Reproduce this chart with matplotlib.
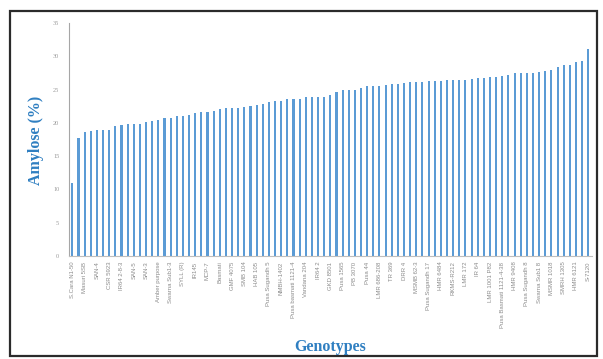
#!/usr/bin/env python
# -*- coding: utf-8 -*-

'''
Amylose content (%) of rice genotypes, sorted from low to high.
'''

import matplotlib
matplotlib.use("Agg")
import numpy as np
import matplotlib.pyplot as plt
from matplotlib.patches import Rectangle

# Amylose (%) for each genotype, ascending
amylose = [
    10.9, 17.8, 18.7, 18.8, 19.0, 19.0, 19.0, 19.6, 19.7, 19.8,
    19.85, 19.9, 20.1, 20.3, 20.5, 20.8, 20.8, 21.05, 21.1, 21.25,
    21.5, 21.6, 21.65, 21.75, 22.1, 22.2, 22.2, 22.3, 22.35, 22.5,
    22.65, 22.9, 23.15, 23.25, 23.35, 23.55, 23.55, 23.6, 23.85, 23.85,
    23.9, 23.95, 24.15, 24.65, 24.9, 24.9, 25.0, 25.3, 25.5, 25.55,
    25.55, 25.65, 25.8, 25.9, 25.95, 26.1, 26.2, 26.2, 26.25, 26.3,
    26.3, 26.4, 26.4, 26.5, 26.5, 26.65, 26.7, 26.8, 26.9, 26.9,
    27.05, 27.15, 27.45, 27.45, 27.45, 27.5, 27.7, 27.85, 28.0, 28.4,
    28.65, 28.65, 29.15, 29.3, 31.15,
]

# only every second genotype gets a label on the axis
genotype_labels = [
    "S.Cara N1-50", "Masuri 5SB", "SAN-4", "CSR 5923", "IR64 2-8-3",
    "SAN-5", "SAN-3", "Amber purpose", "Swarna Sub1-3", "SYLL (R)",
    "IR145", "MCP-7", "Basmati", "GMF 4075", "SMB 104",
    "HAB 105", "Pusa Sugandh 5", "NMBH-1402", "Pusa basmati 1121-4", "Vandana 204",
    "IR64 2", "GKD 8501", "Pusa 1565", "PB 3070", "Pusa 44",
    "LMR 686-208", "TR 369", "DRR 4", "MSMB 62-3", "Pusa Sugandh 17",
    "HMR 6484", "RKMS-R212", "LMR 172", "IR 64", "LMR 1001 P82",
    "Pusa Basmati 1121-4-38", "HMR 9408", "Pusa Sugandh 8", "Swarna Sub1 8", "MSMR 1018",
    "SMRH 1305", "HMR 6121", "S-7120",
]

yTicks = [0, 5, 10, 15, 20, 25, 30, 35]


def main():
    fig = plt.figure(figsize=(6.03, 3.59), dpi=100)
    ax = fig.add_axes([0.1144, 0.2869, 0.8673, 0.649])

    x = np.arange(len(amylose))
    ax.bar(x, amylose, width=0.34, color="#5B9BD5", zorder=2)

    ax.set_xlim(-0.55, len(amylose) - 0.4)
    ax.set_ylim(0, 35)

    ax.set_yticks(yTicks)
    ax.set_yticklabels([str(t) for t in yTicks], fontsize=4.5,
                       color="#999999", family="Liberation Serif")
    ax.set_xticks(x[::2])
    ax.set_xticklabels(genotype_labels, rotation=90, fontsize=4.3,
                       color="#8c8c8c", family="Liberation Sans")
    ax.tick_params(axis="x", length=0, pad=4)
    ax.tick_params(axis="y", length=0, pad=7)

    for side in ["top", "right"]:
        ax.spines[side].set_visible(False)
    ax.spines["left"].set_color("#a6a6a6")
    ax.spines["left"].set_linewidth(0.8)
    ax.spines["bottom"].set_color("#bfbfbf")
    ax.spines["bottom"].set_linewidth(0.8)

    titleFont = dict(family="Liberation Serif", fontsize=11.5,
                     fontweight="bold", color="#2F7FC1")
    fig.text(36 / 603, 1 - 140 / 359, "Amylose (%)", rotation=90,
             ha="center", va="center", **titleFont)
    fig.text(330 / 603, 1 - 347 / 359, "Genotypes",
             ha="center", va="center", **titleFont)

    # dark frame round the whole figure
    frame = Rectangle((10 / 603, 1 - 356 / 359), 587 / 603, 345 / 359,
                      transform=fig.transFigure, fill=False,
                      edgecolor="#2b2b2b", linewidth=1.6)
    fig.patches.append(frame)

    fig.savefig("out.png", dpi=100)


if (__name__ == "__main__"):
    main()
